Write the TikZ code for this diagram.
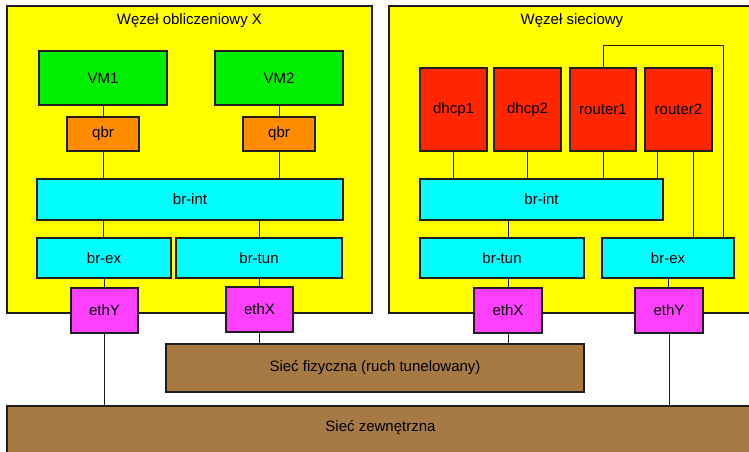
\documentclass[tikz,border=0pt]{standalone}
\usepackage{fontspec}
\setmainfont{Liberation Sans}
\definecolor{cyel}{RGB}{255,255,0}
\definecolor{cgreen}{RGB}{0,238,0}
\definecolor{corange}{RGB}{255,140,0}
\definecolor{cred}{RGB}{255,38,0}
\definecolor{ccyan}{RGB}{0,255,255}
\definecolor{cmag}{RGB}{255,64,255}
\definecolor{cbrown}{RGB}{166,122,66}
\definecolor{cline}{RGB}{30,30,30}
\tikzset{
  box/.style={draw=cline, line width=1.1pt, rectangle, inner sep=0pt, font=\fontsize{15}{18}\selectfont},
  lbl/.style={inner sep=0pt, font=\fontsize{15}{18}\selectfont},
  wire/.style={draw=cline, line width=1pt},
}
\begin{document}
\begin{tikzpicture}[x=1pt,y=-1pt]
\clip (0,0) rectangle (749,451);
\useasboundingbox (0,0) rectangle (749,451);
% host boxes
\node[box, fill=cyel, minimum width=365pt, minimum height=307pt] (hostL) at (189.5,159.5) {};
\node[box, fill=cyel, minimum width=366pt, minimum height=307pt] (hostR) at (572,159.5) {};
\node[lbl] (titleL) at (189.5,21) {Węzeł obliczeniowy X};
\node[lbl] (titleR) at (572,21) {Węzeł sieciowy};
% left host
\node[box, fill=cgreen, minimum width=128pt, minimum height=54pt] (vm1) at (103,78) {VM1};
\node[box, fill=cgreen, minimum width=128pt, minimum height=54pt] (vm2) at (279,78) {VM2};
\node[box, fill=corange, minimum width=72pt, minimum height=34pt] (qbr1) at (103,134) {qbr};
\node[box, fill=corange, minimum width=72pt, minimum height=34pt] (qbr2) at (279,134) {qbr};
\node[box, fill=ccyan, minimum width=306pt, minimum height=41pt] (brint1) at (190,199.5) {br-int};
\node[box, fill=ccyan, minimum width=134pt, minimum height=40pt] (brex1) at (104,258) {br-ex};
\node[box, fill=ccyan, minimum width=166pt, minimum height=40pt] (brtun1) at (259,258) {br-tun};
\node[box, fill=cmag, minimum width=67pt, minimum height=45pt] (ethY1) at (104.5,310.5) {ethY};
\node[box, fill=cmag, minimum width=67pt, minimum height=45pt] (ethX1) at (259.5,309.5) {ethX};
% right host
\node[box, fill=cred, minimum width=67pt, minimum height=83pt] (dhcp1) at (453.5,109.5) {dhcp1};
\node[box, fill=cred, minimum width=67pt, minimum height=83pt] (dhcp2) at (527.5,109.5) {dhcp2};
\node[box, fill=cred, minimum width=66pt, minimum height=83pt] (router1) at (603,109.5) {router1};
\node[box, fill=cred, minimum width=67pt, minimum height=83pt] (router2) at (678.5,109.5) {router2};
\node[box, fill=ccyan, minimum width=243pt, minimum height=41pt] (brint2) at (541.5,199.5) {br-int};
\node[box, fill=ccyan, minimum width=164pt, minimum height=40pt] (brtun2) at (502,258) {br-tun};
\node[box, fill=ccyan, minimum width=132pt, minimum height=40pt] (brex2) at (668,258) {br-ex};
\node[box, fill=cmag, minimum width=68pt, minimum height=45pt] (ethX2) at (508,310.5) {ethX};
\node[box, fill=cmag, minimum width=68pt, minimum height=45pt] (ethY2) at (669,310.5) {ethY};
% networks
\node[box, fill=cbrown, minimum width=418pt, minimum height=48pt] (fiz) at (375,368) {Sieć fizyczna (ruch tunelowany)};
\node[box, fill=cbrown, minimum width=747pt, minimum height=60pt] (zew) at (380.5,436) {};
\node[lbl] (zewt) at (380.5,428) {Sieć zewnętrzna};
% helper coordinates
\coordinate (loopA) at (603,45);
\coordinate (loopB) at (723,45);
% connectors left
\draw[wire] (vm1.south) -- (qbr1.north);
\draw[wire] (vm2.south) -- (qbr2.north);
\draw[wire] (qbr1.south) -- (qbr1.south |- brint1.north);
\draw[wire] (qbr2.south) -- (qbr2.south |- brint1.north);
\draw[wire] (brint1.south -| qbr1) -- (qbr1 |- brex1.north);
\draw[wire] (brint1.south -| brtun1) -- (brtun1.north);
\draw[wire] (brex1.south) -- (ethY1.north -| brex1);
\draw[wire] (brtun1.south -| ethX1) -- (ethX1.north);
% connectors right
\draw[wire] (dhcp1.south) -- (dhcp1.south |- brint2.north);
\draw[wire] (dhcp2.south) -- (dhcp2.south |- brint2.north);
\draw[wire] (router1.south) -- (router1.south |- brint2.north);
\draw[wire] ([xshift=-21.5pt]router2.south) -- ([xshift=-21.5pt]router2.south |- brint2.north);
\draw[wire] ([xshift=14.5pt]router2.south) -- ([xshift=14.5pt]router2.south |- brex2.north);
\draw[wire] (router1.north) -- (loopA) -- (loopB) -- (loopB |- brex2.north);
\draw[wire] (brint2.south -| ethX2) -- (ethX2 |- brtun2.north);
\draw[wire] (brtun2.south -| ethX2) -- (ethX2.north);
\draw[wire] (brex2.south) -- (ethY2.north -| brex2);
% connectors to networks
\draw[wire] (ethY1.south) -- (ethY1.south |- zew.north);
\draw[wire] (ethX1.south) -- (ethX1.south |- fiz.north);
\draw[wire] (ethX2.south) -- (ethX2.south |- fiz.north);
\draw[wire] (ethY2.south) -- (ethY2.south |- zew.north);
\end{tikzpicture}
\end{document}
